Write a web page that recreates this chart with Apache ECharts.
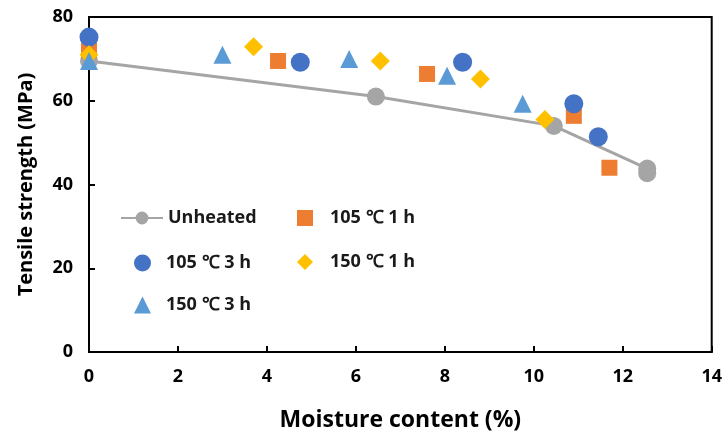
<!DOCTYPE html>
<html><head><meta charset="utf-8">
<script src="https://cdn.jsdelivr.net/npm/echarts@6/dist/echarts.min.js"></script>
<style>html,body{margin:0;padding:0;background:#fff}#c{width:725px;height:437px}</style>
</head><body><div id="c"></div>
<script>
const unheatedX = [0, 6.45, 10.45, 12.55, 12.55];
const unheatedY = [69.5, 61, 54, 43.8, 42.7];
const h105_1X = [0, 4.25, 7.6, 10.9, 11.7];
const h105_1Y = [72, 69.5, 66.4, 56.4, 44];
const h105_3X = [0, 4.75, 8.4, 10.9, 11.45];
const h105_3Y = [75.2, 69.2, 69.2, 59.3, 51.4];
const h150_1X = [0, 3.7, 6.55, 8.8, 10.25];
const h150_1Y = [71, 72.9, 69.5, 65.2, 55.5];
const h150_3X = [0, 3.0, 5.85, 8.05, 9.75];
const h150_3Y = [69.5, 71, 70, 66, 59.3];
const seriesNames = ['Unheated', '105 ℃ 1 h', '105 ℃ 3 h', '150 ℃ 1 h', '150 ℃ 3 h'];
const xTicks = [0, 2, 4, 6, 8, 10, 12, 14];
const yTicks = [0, 20, 40, 60, 80];

const pts = (xs, ys) => xs.map((x, i) => [x, ys[i]]);
const font = '"Open Sans", Lato, sans-serif';
const chart = echarts.init(document.getElementById('c'));
const legendText = (pad) => ({fontFamily: font, fontWeight: 'bold', fontSize: 18, color: '#1a1a1a', padding: [0, 0, 0, pad]});
const leg = (name, left, top, w, h, pad) => ({
  data: [name], left: left, top: top, itemWidth: w, itemHeight: h, itemGap: 0, padding: 0,
  textStyle: legendText(pad)
});
chart.setOption({
  animation: false,
  grid: {left: 89, right: 12, top: 17, bottom: 84, show: true, borderColor: '#000', borderWidth: 2},
  legend: [
    leg(seriesNames[0], 120, 209, 42, 16, 0),
    leg(seriesNames[2], 134, 254, 17, 17, 10),
    leg(seriesNames[4], 134, 296, 17, 17, 10),
    leg(seriesNames[1], 297, 209, 16, 16, 12),
    leg(seriesNames[3], 297, 253, 16, 16, 12)
  ],
  xAxis: {
    type: 'value', min: xTicks[0], max: xTicks[xTicks.length - 1], interval: 2,
    name: 'Moisture content (%)', nameLocation: 'middle', nameGap: 57,
    nameTextStyle: {fontFamily: font, fontWeight: 'bold', fontSize: 23, color: '#000'},
    axisLine: {lineStyle: {color: '#000', width: 2}},
    axisTick: {inside: true, length: 6, lineStyle: {color: '#000', width: 2}},
    axisLabel: {fontFamily: font, fontWeight: 'bold', fontSize: 18, color: '#000', margin: 16},
    splitLine: {show: false}
  },
  yAxis: {
    type: 'value', min: yTicks[0], max: yTicks[yTicks.length - 1], interval: 20,
    name: 'Tensile strength (MPa)', nameLocation: 'middle', nameGap: 53, nameRotate: 90,
    nameTextStyle: {fontFamily: font, fontWeight: 'bold', fontSize: 20, color: '#000'},
    axisLine: {lineStyle: {color: '#000', width: 2}},
    axisTick: {inside: true, length: 6, lineStyle: {color: '#000', width: 2}},
    axisLabel: {fontFamily: font, fontWeight: 'bold', fontSize: 18, color: '#000', margin: 16},
    splitLine: {show: false}
  },
  series: [
    {name: seriesNames[0], type: 'line', data: pts(unheatedX, unheatedY), symbol: 'circle', symbolSize: 18,
     itemStyle: {color: '#A5A5A5', opacity: 1}, lineStyle: {color: '#A5A5A5', width: 3}, z: 2},
    {name: seriesNames[1], type: 'scatter', data: pts(h105_1X, h105_1Y), symbol: 'rect', symbolSize: 16,
     itemStyle: {color: '#ED7D31', opacity: 1}, z: 3},
    {name: seriesNames[2], type: 'scatter', data: pts(h105_3X, h105_3Y), symbol: 'circle', symbolSize: 19,
     itemStyle: {color: '#4472C4', opacity: 1}, z: 3},
    {name: seriesNames[3], type: 'scatter', data: pts(h150_1X, h150_1Y), symbol: 'diamond', symbolSize: 19,
     itemStyle: {color: '#FFC000', opacity: 1}, z: 4},
    {name: seriesNames[4], type: 'scatter', data: pts(h150_3X, h150_3Y), symbol: 'triangle', symbolSize: 18,
     itemStyle: {color: '#5B9BD5', opacity: 1}, z: 5}
  ]
});
</script></body></html>
